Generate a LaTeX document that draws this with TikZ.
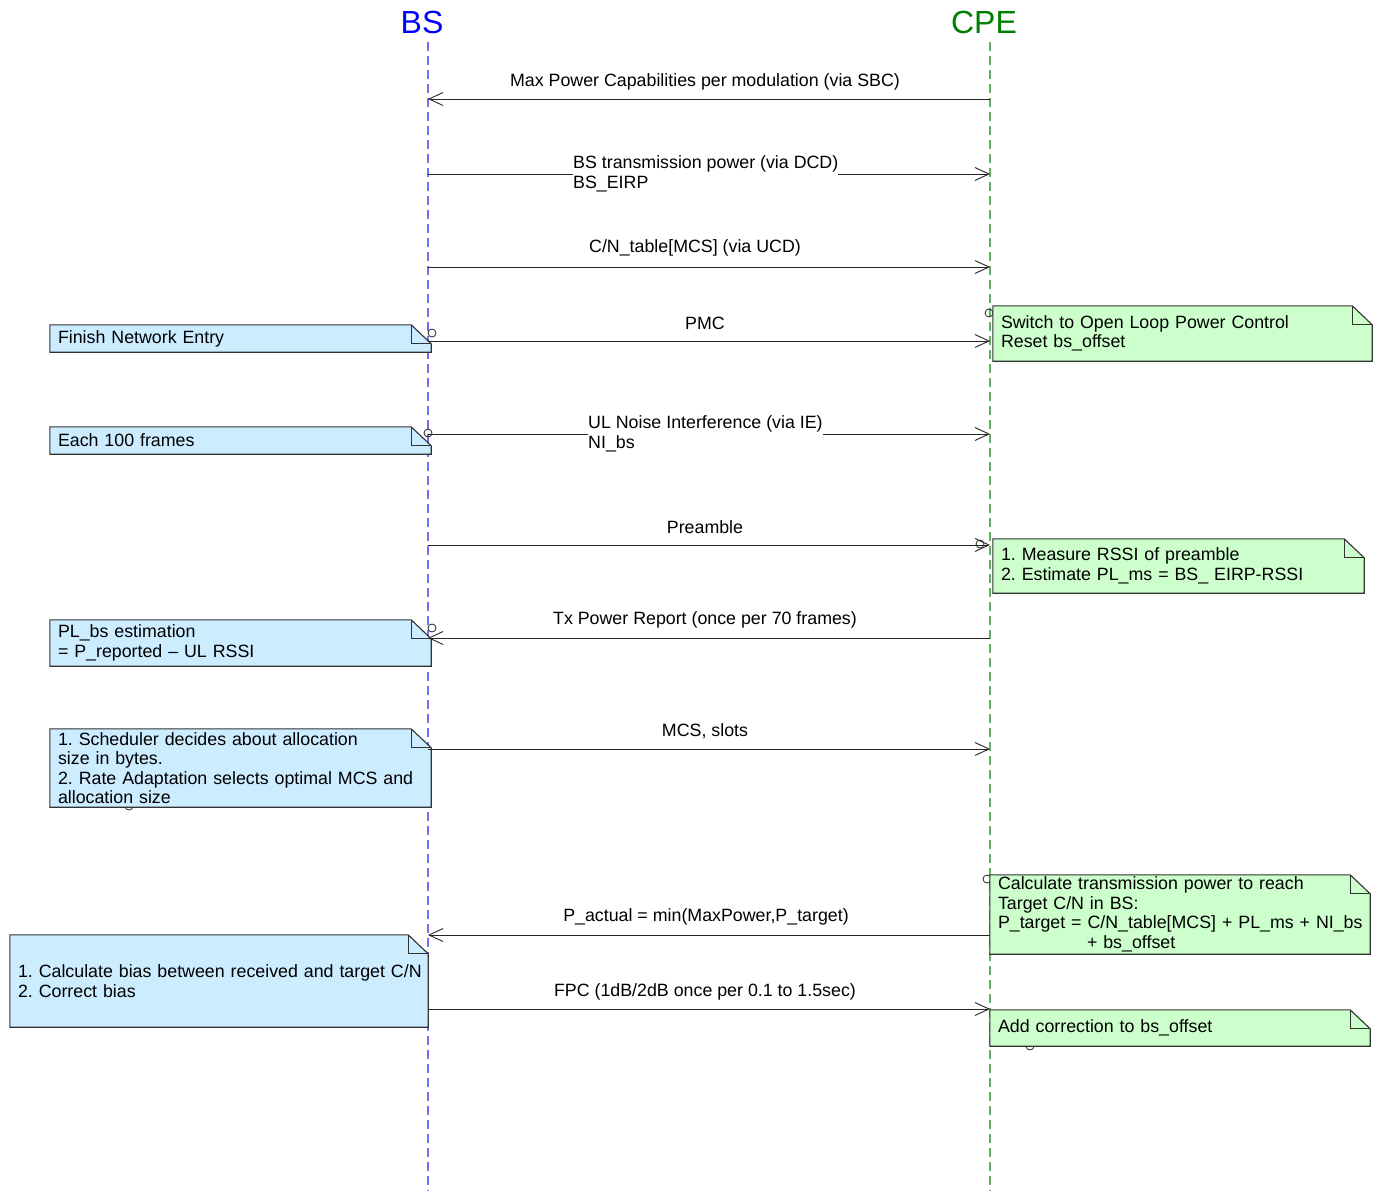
\documentclass[tikz,border=0pt]{standalone}
\usepackage{fontspec}
\setmainfont{Liberation Sans}
\usetikzlibrary{arrows.meta,backgrounds,calc}
\frenchspacing
\definecolor{bsblue}{RGB}{0,0,255}
\definecolor{cpegreen}{RGB}{0,128,0}
\definecolor{bsline}{RGB}{110,110,255}
\definecolor{cpeline}{RGB}{100,175,100}
\definecolor{notebl}{RGB}{204,236,255}
\definecolor{notegr}{RGB}{204,255,204}
\definecolor{edgegray}{RGB}{50,50,50}
\newcommand\mknote[6]{%
  \node[notestyle, minimum width={#4pt-#2pt}, minimum height={#5pt-#3pt},
        text width={#4pt-#2pt-16pt}] (#1) at ({(#2+#4)/2},{(#3+#5)/2}) {#6};}
\begin{document}
\begin{tikzpicture}[x=1pt,y=-1pt,
  font=\fontsize{17.8}{19.5}\selectfont\frenchspacing,
  headstyle/.style={font=\fontsize{32}{36}\selectfont, inner sep=0pt},
  bslife/.style={draw=bsline, line width=1.4pt, dash pattern=on 9pt off 5pt},
  cpelife/.style={draw=cpeline, line width=1.4pt, dash pattern=on 9pt off 5pt},
  msg/.style={draw=black!85, line width=0.9pt, -{Straight Barb[length=14pt,width=13pt,line width=0.9pt]}},
  lbl/.style={inner sep=0pt},
  wlbl/.style={inner sep=0pt, fill=white, align=left},
  notestyle/.style={rectangle, inner xsep=8pt, inner ysep=0pt, align=left},
  circ/.style={draw=black!85, line width=0.8pt},
  noteedge/.style={draw=edgegray, line width=1.1pt, line join=miter}]
\useasboundingbox (0,0) rectangle (1373,1191);

% heads
\node[headstyle, text=bsblue] (bs) at (422,22) {BS};
\node[headstyle, text=cpegreen] (cpe) at (984,22) {CPE};
\coordinate (bstop) at (428,42);
\coordinate (bsbot) at (428,1191);
\coordinate (cpetop) at (990,42);
\coordinate (cpebot) at (990,1191);

% message anchor points on lifelines
\foreach \i/\y in {1/99,2/174,3/267,4/341,5/434,6/545,7/638,8/749,9/935,10/1009}{
  \coordinate (b\i) at (428,\y);
  \coordinate (c\i) at (990,\y);
}

% notes (text nodes)
\mknote{n1}{50}{325}{431}{352}{Finish Network Entry}
\mknote{n2}{993}{306}{1372}{361}{Switch to Open Loop Power Control\\Reset bs\_offset}
\mknote{n3}{50}{427}{431}{454}{Each 100 frames}
\mknote{n4}{993}{539}{1364}{593}{1. Measure RSSI of preamble\\2. Estimate PL\_ms = BS\_ EIRP-RSSI}
\mknote{n5}{50}{620}{431}{666}{PL\_bs estimation\\= P\_reported -- UL RSSI}
\mknote{n6}{50}{729}{431}{807}{1. Scheduler decides about allocation\\size in bytes.\\2. Rate Adaptation selects optimal MCS and\\allocation size}
\mknote{n7}{990}{875}{1370}{954}{Calculate transmission power to reach\\Target C/N in BS:\\\mbox{P\_target = C/N\_table[MCS] + PL\_ms + NI\_bs}\\\hspace*{89pt}+ bs\_offset}
\mknote{n8}{10}{935}{428}{1027}{\mbox{1. Calculate bias between received and target C/N}\\2. Correct bias}
\mknote{n9}{990}{1010}{1370}{1046}{Add correction to bs\_offset}

\begin{scope}[on background layer]
  \draw[bslife] (bstop) -- (bsbot);
  \draw[cpelife] (cpetop) -- (cpebot);
  \draw[circ] (432,333) circle[radius=4];
  \draw[circ] (989,313) circle[radius=4];
  \draw[circ] (428,433) circle[radius=4];
  \draw[circ] (980,544) circle[radius=4];
  \draw[circ] (432,628) circle[radius=4];
  \draw[circ] (129,806) circle[radius=4];
  \draw[circ] (987,879) circle[radius=4];
  \draw[circ] (1030,1046) circle[radius=4];
  \foreach \n/\c in {n1/notebl,n2/notegr,n3/notebl,n4/notegr,n5/notebl,n6/notebl,n7/notegr,n8/notebl,n9/notegr}{
    \filldraw[noteedge, fill=\c] (\n.south west) -- (\n.north west) -- ([xshift=-20pt]\n.north east)
      -- ([yshift=-19pt]\n.north east) -- (\n.south east) -- cycle;
    \draw[noteedge] ([xshift=-20pt]\n.north east) |- ([yshift=-19pt]\n.north east);
  }
\end{scope}

% messages
\draw[msg] (c1) -- (b1);
\node[lbl] (l1) at (705,82) {Max Power Capabilities per modulation (via SBC)};
\draw[msg] (b2) -- (c2);
\node[wlbl, anchor=west] (l2) at (573,174) {BS transmission power (via DCD)\\BS\_EIRP};
\draw[msg] (b3) -- (c3);
\node[lbl] (l3) at (695,248) {C/N\_table[MCS] (via UCD)};
\draw[msg] (b4) -- (c4);
\node[lbl] (l4) at (705,323) {PMC};
\draw[msg] (b5) -- (c5);
\node[wlbl, anchor=west] (l5) at (588,434) {UL Noise Interference (via IE)\\NI\_bs};
\draw[msg] (b6) -- (c6);
\node[lbl] (l6) at (705,527) {Preamble};
\draw[msg] (c7) -- (b7);
\node[lbl] (l7) at (705,620) {Tx Power Report (once per 70 frames)};
\draw[msg] (b8) -- (c8);
\node[lbl] (l8) at (705,731) {MCS, slots};
\draw[msg] (c9) -- (b9);
\node[lbl] (l9) at (706,917) {P\_actual = min(MaxPower,P\_target)};
\draw[msg] (b10) -- (c10);
\node[lbl] (l10) at (705,992) {FPC (1dB/2dB once per 0.1 to 1.5sec)};
\end{tikzpicture}
\end{document}
